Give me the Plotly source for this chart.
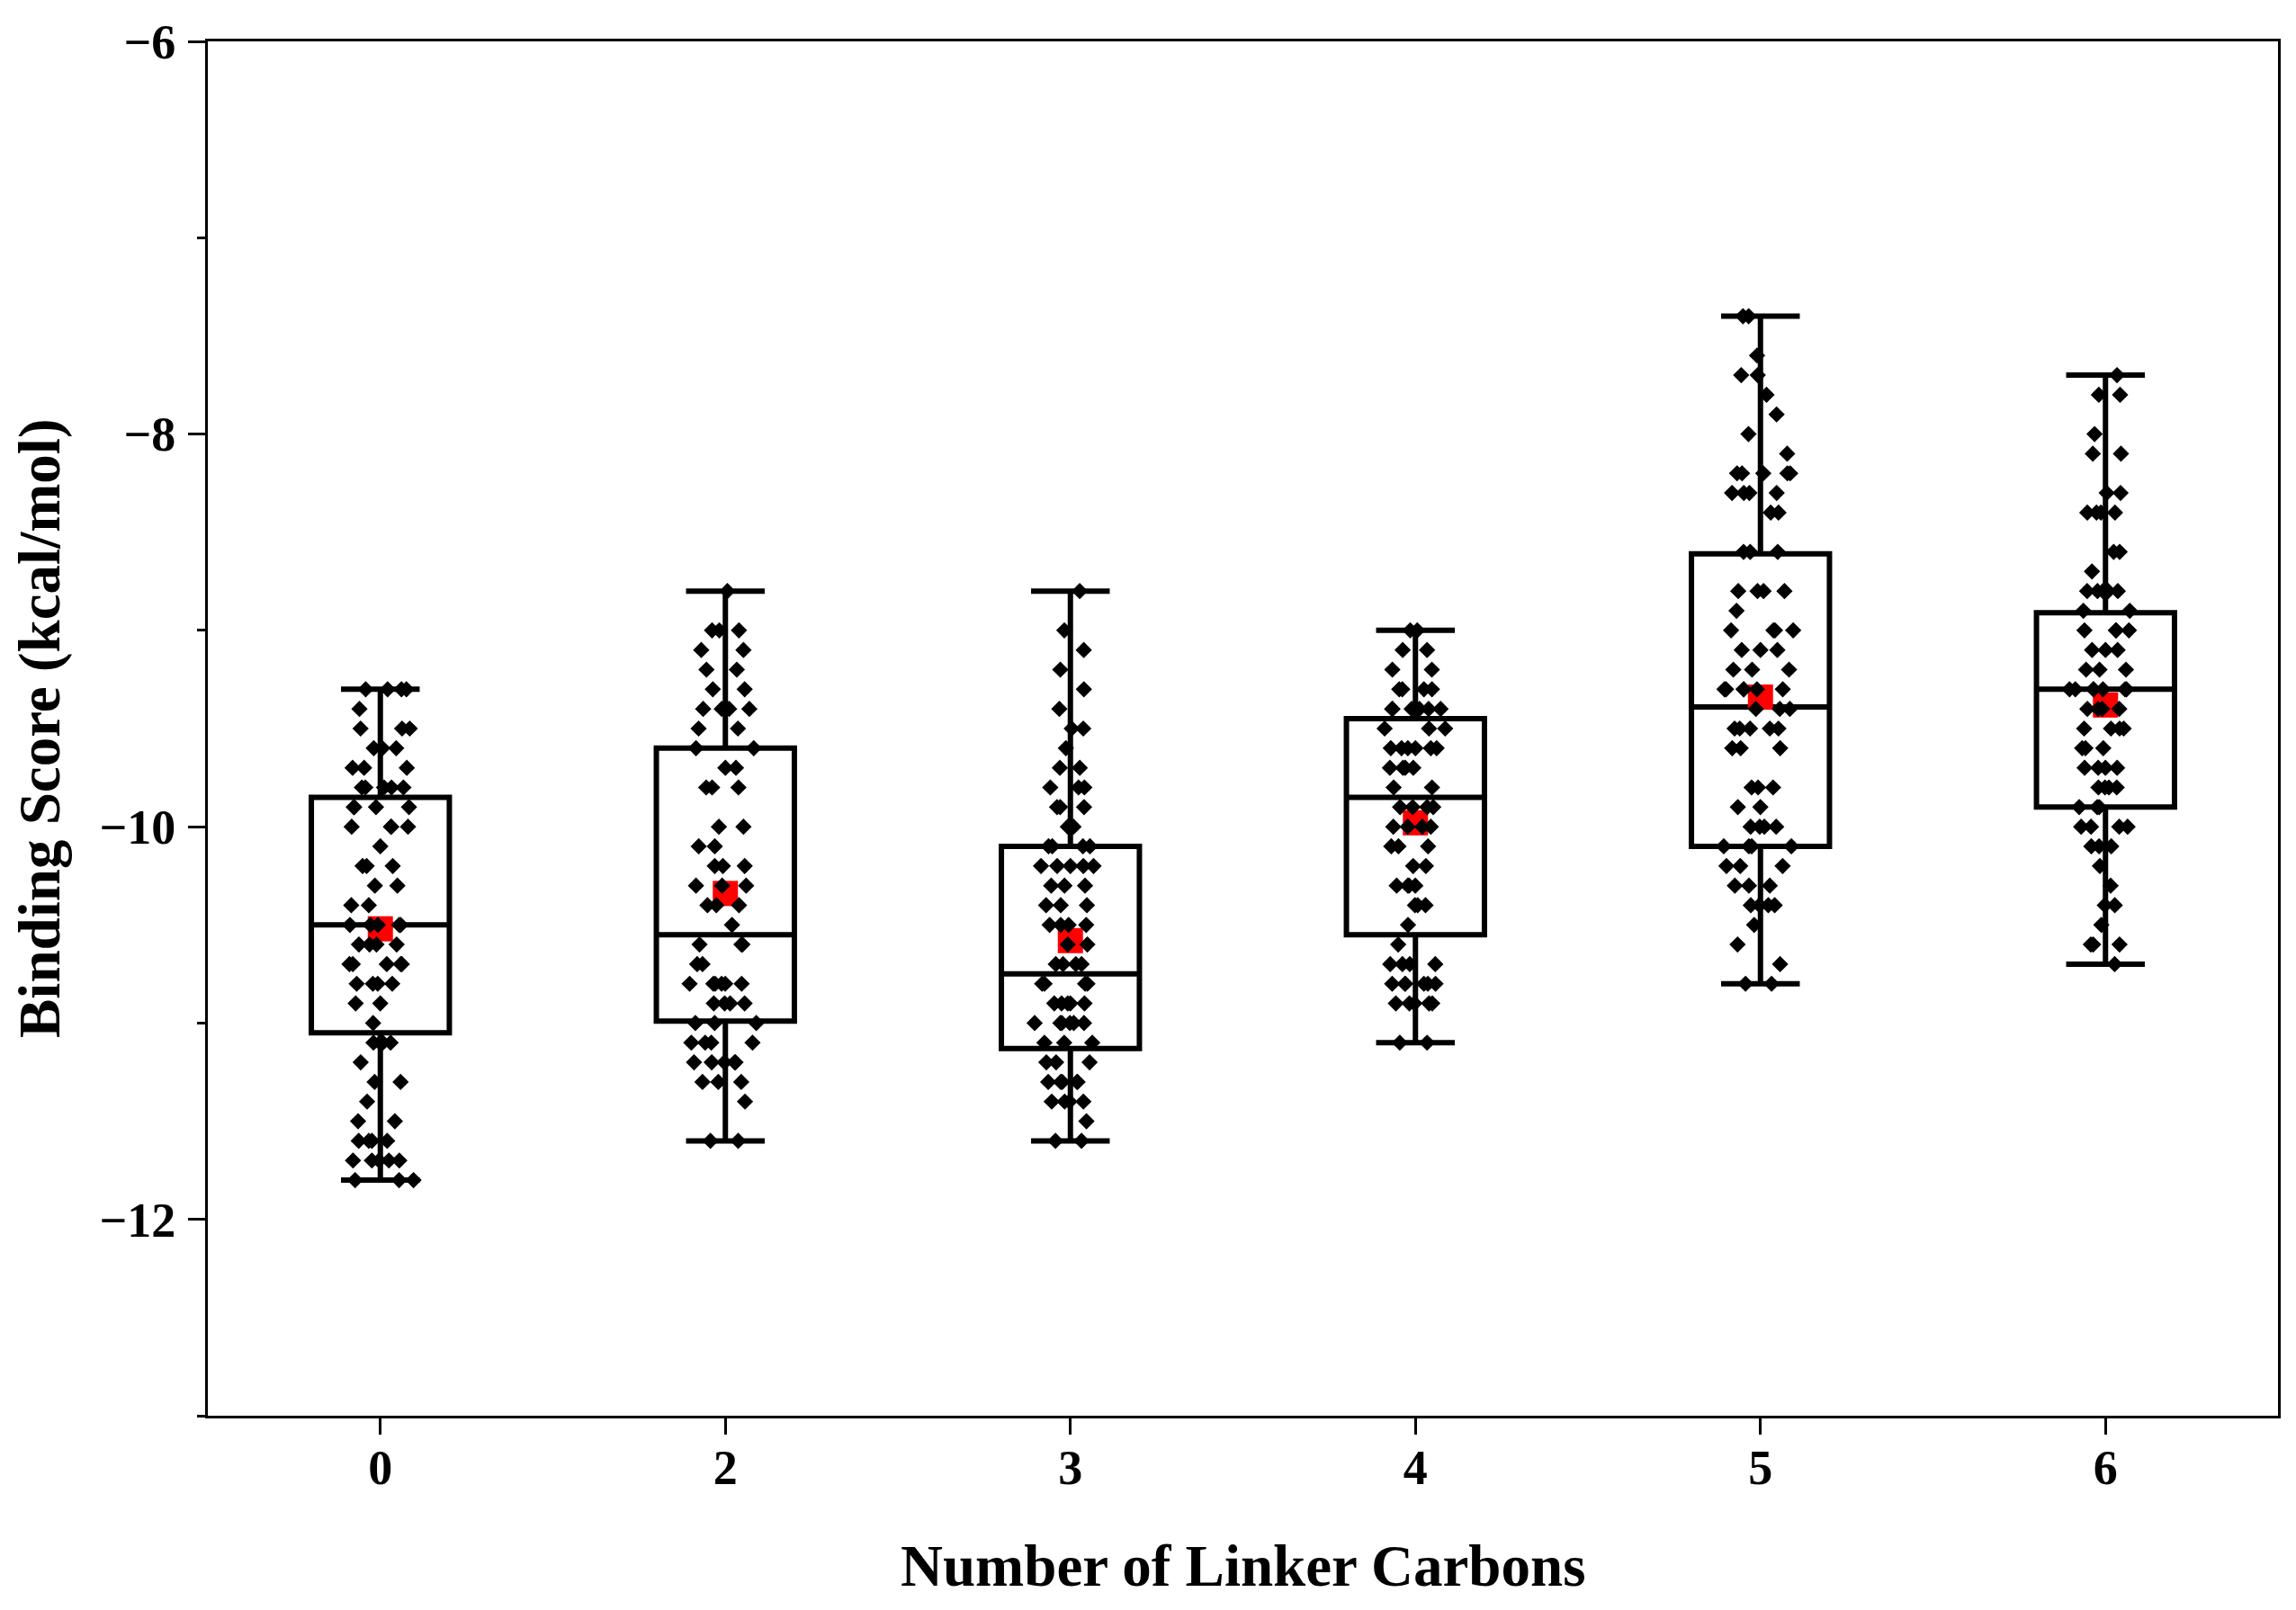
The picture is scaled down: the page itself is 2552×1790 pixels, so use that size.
import numpy as np
import plotly.graph_objects as go

# ---------------- data ----------------
categories = ["0", "2", "3", "4", "5", "6"]

# binding-score levels (kcal/mol) and number of compounds at each level
g0_levels = [-9.3, -9.4, -9.5, -9.6, -9.7, -9.8, -9.9, -10.0, -10.1, -10.2, -10.3, -10.4, -10.5,
             -10.6, -10.7, -10.8, -10.9, -11.0, -11.1, -11.2, -11.3, -11.4, -11.5, -11.6, -11.7, -11.8]
g0_counts = [4, 1, 3, 3, 3, 5, 4, 4, 1, 3, 2, 2, 5, 4, 5, 4, 2, 1, 4, 1, 2, 1, 2, 4, 5, 3]

g2_levels = [-8.8, -9.0, -9.1, -9.2, -9.3, -9.4, -9.5, -9.6, -9.7, -9.8, -10.0, -10.1, -10.2,
             -10.3, -10.4, -10.5, -10.6, -10.7, -10.8, -10.9, -11.0, -11.1, -11.2, -11.3, -11.4, -11.6]
g2_counts = [1, 3, 2, 2, 2, 4, 2, 2, 2, 3, 2, 2, 3, 3, 3, 1, 3, 2, 6, 4, 3, 4, 5, 3, 1, 2]

g3_levels = [-8.8, -9.0, -9.1, -9.2, -9.3, -9.4, -9.5, -9.6, -9.7, -9.8, -9.9, -10.0, -10.1, -10.2,
             -10.3, -10.4, -10.5, -10.6, -10.7, -10.8, -10.9, -11.0, -11.1, -11.2, -11.3, -11.4, -11.5, -11.6]
g3_counts = [1, 1, 1, 1, 1, 1, 2, 1, 2, 3, 3, 2, 4, 5, 3, 3, 4, 2, 4, 4, 5, 6, 3, 3, 5, 4, 1, 2]

g4_levels = [-9.0, -9.1, -9.2, -9.3, -9.4, -9.5, -9.6, -9.7, -9.8, -9.9, -10.0, -10.1, -10.2,
             -10.3, -10.4, -10.5, -10.6, -10.7, -10.8, -10.9, -11.1]
g4_counts = [2, 2, 2, 4, 6, 3, 6, 4, 2, 4, 4, 3, 2, 4, 3, 1, 1, 4, 6, 5, 2]

g5_levels = [-7.4, -7.6, -7.7, -7.8, -7.9, -8.0, -8.1, -8.2, -8.3, -8.4, -8.6, -8.8, -8.9, -9.0,
             -9.1, -9.2, -9.3, -9.4, -9.5, -9.6, -9.8, -9.9, -10.0, -10.1, -10.2, -10.3, -10.4,
             -10.5, -10.6, -10.7, -10.8]
g5_counts = [2, 1, 2, 1, 1, 1, 1, 5, 4, 2, 3, 4, 1, 4, 3, 3, 6, 3, 5, 3, 3, 2, 4, 4, 3, 3, 4, 1, 1, 1, 2]

g6_levels = [-7.7, -7.8, -8.0, -8.1, -8.3, -8.4, -8.6, -8.7, -8.8, -8.9, -9.0, -9.1, -9.2, -9.3,
             -9.4, -9.5, -9.6, -9.7, -9.8, -9.9, -10.0, -10.1, -10.2, -10.3, -10.4, -10.5, -10.6, -10.7]
g6_counts = [1, 2, 1, 2, 2, 4, 2, 1, 5, 2, 4, 3, 3, 7, 4, 4, 3, 4, 4, 3, 4, 3, 1, 1, 2, 1, 3, 1]

# box statistics as drawn in the reference
box_q1 = [-11.05, -10.99, -11.13, -10.55, -10.10, -9.90]
box_median = [-10.50, -10.55, -10.75, -9.85, -9.39, -9.30]
box_q3 = [-9.85, -9.60, -10.10, -9.45, -8.61, -8.91]
box_low = [-11.8, -11.6, -11.6, -11.1, -10.8, -10.7]
box_high = [-9.3, -8.8, -8.8, -9.0, -7.4, -7.7]
box_mean = [-10.52, -10.34, -10.58, -9.98, -9.34, -9.38]

groups = [(g0_levels, g0_counts), (g2_levels, g2_counts), (g3_levels, g3_counts),
          (g4_levels, g4_counts), (g5_levels, g5_counts), (g6_levels, g6_counts)]

# ---------------- figure ----------------
FONT = "Liberation Serif"
BOXW = 0.4

fig = go.Figure()

# boxes (precomputed statistics)
for i, cat in enumerate(categories):
    fig.add_trace(go.Box(
        x=[i], q1=[box_q1[i]], median=[box_median[i]], q3=[box_q3[i]],
        lowerfence=[box_low[i]], upperfence=[box_high[i]],
        width=BOXW, whiskerwidth=0.57,
        fillcolor="rgba(0,0,0,0)", line=dict(color="black", width=6),
        boxpoints=False, showlegend=False, hoverinfo="skip"))

# mean markers (red squares)
for i, cat in enumerate(categories):
    fig.add_trace(go.Box(
        x=[i], y=[box_mean[i]], width=BOXW, boxpoints="all", jitter=0, pointpos=0,
        fillcolor="rgba(0,0,0,0)", line=dict(color="rgba(0,0,0,0)", width=0),
        marker=dict(symbol="square", size=28, color="#ff0000"),
        showlegend=False, hoverinfo="skip"))

# individual compounds (jittered diamonds)
for i, (lv, ct) in enumerate(groups):
    vals = np.repeat(np.array(lv), np.array(ct))
    fig.add_trace(go.Box(
        x=[i] * len(vals), y=vals, width=BOXW, boxpoints="all", jitter=0.62, pointpos=0,
        fillcolor="rgba(0,0,0,0)", line=dict(color="rgba(0,0,0,0)", width=0),
        marker=dict(symbol="diamond", size=14, color="black"),
        showlegend=False, hoverinfo="skip"))

# the page body adds an 8 px margin around the figure
fig.update_layout(
    width=2536, height=1774,
    paper_bgcolor="white", plot_bgcolor="white",
    margin=dict(l=223, r=9, t=21, b=208),
    boxmode="overlay",
    font=dict(family=FONT, color="black", size=54, weight="bold"),
    showlegend=False,
)

fig.update_xaxes(
    range=[-0.5, 5.5], tickmode="array", tickvals=list(range(len(categories))),
    ticktext=categories, ticks="outside", ticklen=18, tickwidth=3, tickcolor="black",
    showline=True, linewidth=3, linecolor="black", mirror=True,
    showgrid=False, zeroline=False, ticklabelstandoff=-10,
    tickfont=dict(family=FONT, size=54, weight="bold"),
)
fig.update_yaxes(
    range=[-13, -6], tickmode="array", tickvals=[-6, -8, -10, -12],
    ticks="outside", ticklen=19, tickwidth=3, tickcolor="black",
    minor=dict(tickvals=[-7, -9, -11, -13], ticks="outside", ticklen=9, tickwidth=3, tickcolor="black"),
    showline=True, linewidth=3, linecolor="black", mirror=True,
    showgrid=False, zeroline=False, ticklabelstandoff=3, ticklabeloverflow="allow",
    tickfont=dict(family=FONT, size=54, weight="bold"),
)

fig.add_annotation(text="Number of Linker Carbons", xref="paper", yref="paper",
                   x=0.5, y=0, yshift=-205, xanchor="center", yanchor="bottom",
                   showarrow=False, font=dict(family=FONT, size=65, weight="bold"))
fig.add_annotation(text="Binding Score (kcal/mol)", xref="paper", yref="paper",
                   x=0, xshift=-187, y=0.5, xanchor="center", yanchor="middle", textangle=-90,
                   showarrow=False, font=dict(family=FONT, size=65, weight="bold"))

fig.write_html("out.html")
